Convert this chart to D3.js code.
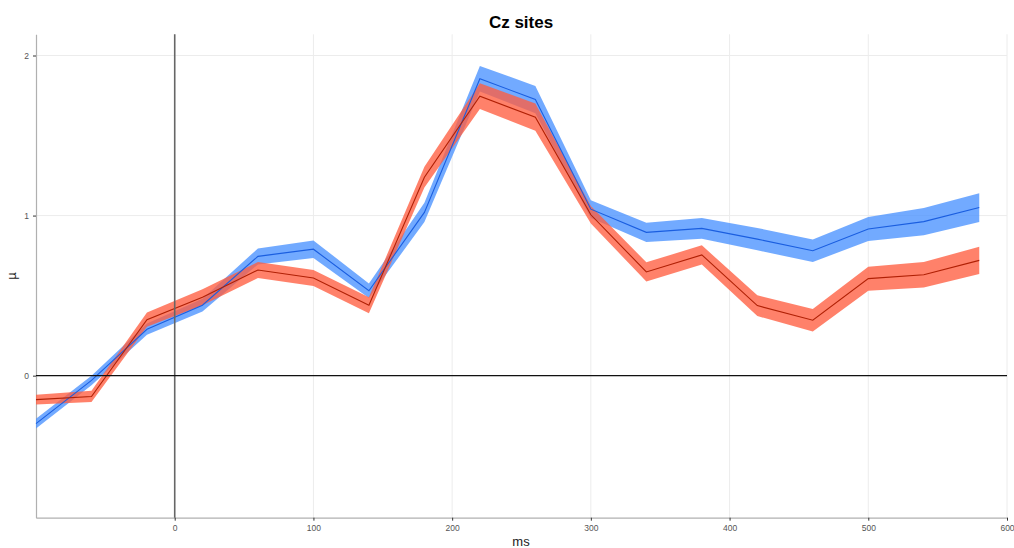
<!DOCTYPE html>
<html><head><meta charset="utf-8">
<script src="https://cdn.jsdelivr.net/npm/d3@7"></script>
<style>body{margin:0;background:#fff;font-family:"Liberation Sans",Arial,sans-serif;}</style>
</head><body><svg id="c" width="1014" height="548"></svg>
<script>
const times = [-100,-60,-20,20,60,100,140,180,220,260,300,340,380,420,460,500,540,580];
const blueMean = [-0.30,-0.03,0.29,0.44,0.745,0.79,0.53,1.02,1.855,1.725,1.04,0.895,0.92,0.853,0.78,0.916,0.962,1.05];
const blueSE   = [0.03,0.03,0.035,0.04,0.05,0.055,0.045,0.06,0.08,0.085,0.055,0.06,0.065,0.07,0.07,0.075,0.085,0.09];
const redMean  = [-0.15,-0.13,0.35,0.49,0.66,0.61,0.44,1.24,1.746,1.615,1.005,0.648,0.754,0.4375,0.346,0.606,0.63,0.72];
const redSE    = [0.03,0.035,0.045,0.05,0.05,0.05,0.05,0.065,0.08,0.085,0.055,0.06,0.06,0.065,0.07,0.075,0.08,0.085];
const xTicks = [0,100,200,300,400,500,600];
const yTicks = [0,1,2];

const svg = d3.select("#c");
const x = d3.scaleLinear().domain([-100,600]).range([36,1007]);
const y = d3.scaleLinear().domain([-0.8875,2.1325]).range([517.7,34.3]);

// grid
svg.append("g").selectAll("line").data(xTicks).join("line")
  .attr("x1",d=>x(d)).attr("x2",d=>x(d)).attr("y1",y.range()[1]).attr("y2",y.range()[0])
  .attr("stroke","#ececec").attr("stroke-width",1);
svg.append("g").selectAll("line").data(yTicks).join("line")
  .attr("y1",d=>y(d)).attr("y2",d=>y(d)).attr("x1",x.range()[0]).attr("x2",x.range()[1])
  .attr("stroke","#ececec").attr("stroke-width",1);

// axes
const xa = svg.append("g").attr("transform",`translate(0,${y.range()[0]})`)
  .call(d3.axisBottom(x).tickValues(xTicks).tickFormat(d3.format("d")).tickSize(3).tickPadding(4).tickSizeOuter(0));
const ya = svg.append("g").attr("transform",`translate(${x.range()[0]},0)`)
  .call(d3.axisLeft(y).tickValues(yTicks).tickFormat(d3.format("d")).tickSize(3).tickPadding(4).tickSizeOuter(0));
[xa,ya].forEach(a=>{
  a.select(".domain").attr("stroke","#b0b0b0").attr("stroke-width",1.2);
  a.selectAll(".tick line").attr("stroke","#333");
  a.selectAll("text").attr("fill","#555").style("font-size","8.5px").style("font-family","Liberation Sans, Arial, sans-serif");
});

const pts = (m,s)=>times.map((t,i)=>({t,m:m[i],lo:m[i]-s[i],hi:m[i]+s[i]}));
const area = d3.area().x(d=>x(d.t)).y0(d=>y(d.lo)).y1(d=>y(d.hi));
const line = d3.line().x(d=>x(d.t)).y(d=>y(d.m));

const series = [
  {data:pts(blueMean,blueSE), fill:"#4a92ff", stroke:"#1a5ee0"},
  {data:pts(redMean,redSE), fill:"#ff5e40", stroke:"#b02005"}
];
series.forEach(s=>{
  svg.append("path").datum(s.data).attr("d",area).attr("fill",s.fill).attr("fill-opacity",0.78);
});
series.forEach(s=>{
  svg.append("path").datum(s.data).attr("d",line).attr("fill","none").attr("stroke",s.stroke).attr("stroke-width",1.1);
});

// reference lines
svg.append("line").attr("x1",x(0)).attr("x2",x(0)).attr("y1",y.range()[1]).attr("y2",y.range()[0])
  .attr("stroke","#666").attr("stroke-width",1.6);
svg.append("line").attr("x1",x.range()[0]).attr("x2",x.range()[1]).attr("y1",y(0)).attr("y2",y(0))
  .attr("stroke","#111").attr("stroke-width",1.1);

// titles
svg.append("text").attr("x",521).attr("y",28).attr("text-anchor","middle")
  .style("font-size","17px").style("font-weight","bold").attr("fill","#000").text("Cz sites");
svg.append("text").attr("x",521).attr("y",546).attr("text-anchor","middle")
  .style("font-size","13px").attr("fill","#222").text("ms");
svg.append("text").attr("transform","translate(16,276) rotate(-90)").attr("text-anchor","middle")
  .style("font-size","13px").attr("fill","#222").text("µ");
</script></body></html>
